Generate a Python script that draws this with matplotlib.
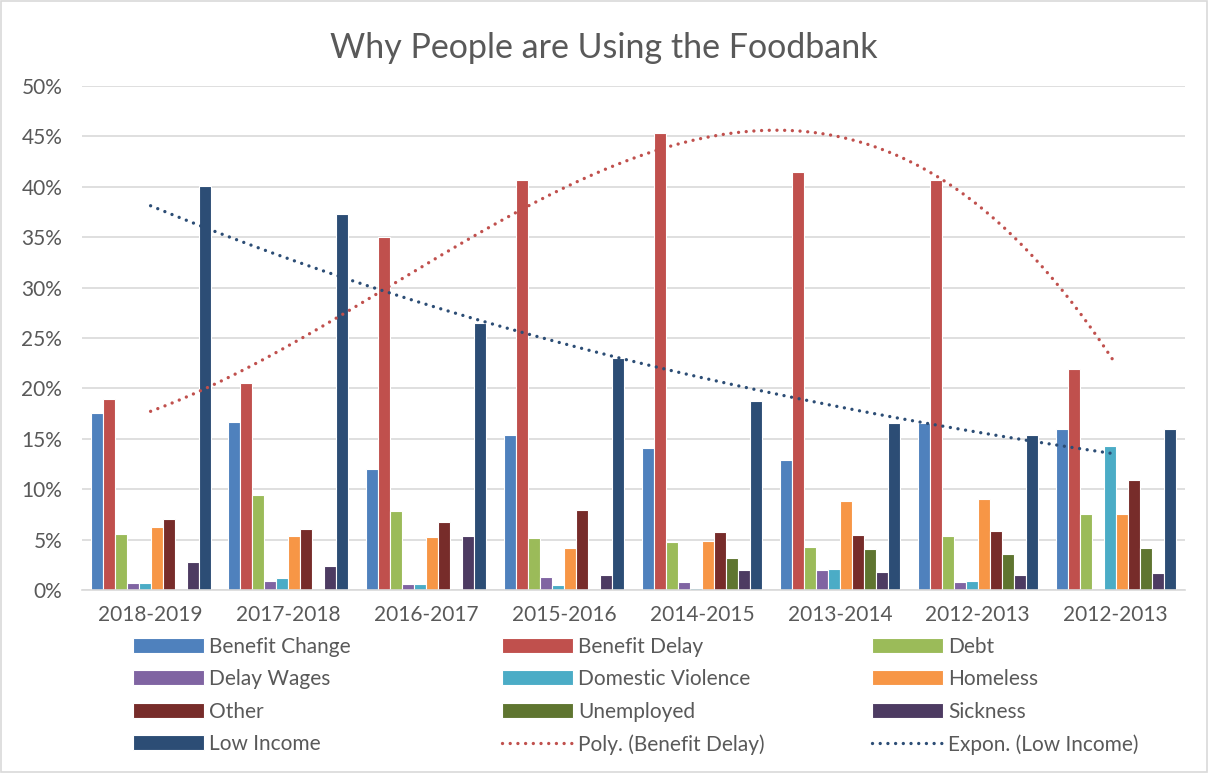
import matplotlib
matplotlib.use('Agg')
import matplotlib.pyplot as plt
import numpy as np
from matplotlib.lines import Line2D
from matplotlib.patches import Rectangle

plt.rcParams['font.family'] = ['Lato', 'DejaVu Sans']

# Data (percent)
years = ['2018-2019', '2017-2018', '2016-2017', '2015-2016',
         '2014-2015', '2013-2014', '2012-2013', '2012-2013']
benefit_change = [17.6, 16.7, 12.0, 15.4, 14.1, 12.9, 16.6, 16.0]
benefit_delay = [19.0, 20.5, 35.0, 40.7, 45.3, 41.5, 40.7, 21.9]
debt = [5.6, 9.4, 7.8, 5.2, 4.8, 4.3, 5.4, 7.5]
delay_wages = [0.7, 0.9, 0.6, 1.3, 0.8, 2.0, 0.8, 0.0]
domestic_violence = [0.7, 1.2, 0.6, 0.5, 0.2, 2.1, 0.9, 14.3]
homeless = [6.3, 5.4, 5.3, 4.2, 4.9, 8.8, 9.0, 7.5]
other = [7.0, 6.1, 6.7, 7.9, 5.8, 5.5, 5.9, 10.9]
unemployed = [0.0, 0.0, 0.0, 0.0, 3.2, 4.1, 3.6, 4.2]
sickness = [2.8, 2.4, 5.4, 1.5, 2.0, 1.8, 1.5, 1.7]
low_income = [40.1, 37.3, 26.5, 23.0, 18.8, 16.6, 15.4, 16.0]

series = [
    ('Benefit Change', benefit_change, '#4F81BD'),
    ('Benefit Delay', benefit_delay, '#C0504D'),
    ('Debt', debt, '#9BBB59'),
    ('Delay Wages', delay_wages, '#8064A2'),
    ('Domestic Violence', domestic_violence, '#4BACC6'),
    ('Homeless', homeless, '#F79646'),
    ('Other', other, '#772C2A'),
    ('Unemployed', unemployed, '#5F7530'),
    ('Sickness', sickness, '#4D3B62'),
    ('Low Income', low_income, '#2C4D75'),
]

txt = '#595959'
grid = '#D9D9D9'
dots = (0, (0.01, 2.3))

fig = plt.figure(figsize=(12.08, 7.73), dpi=100)
ax = fig.add_axes([0.0676, 0.2367, 0.9130, 0.6520])

x = np.arange(1, len(years) + 1)
slot = 0.087
handles = []
for k, (name, vals, col) in enumerate(series):
    b = ax.bar(x + (k - 4.5) * slot, np.array(vals) / 100, width=slot,
               color=col, edgecolor='white', linewidth=0.8, label=name, zorder=2)
    handles.append(b)

# trendlines fitted from the data, as Excel does
xs = np.linspace(1, 8, 200)
poly = np.polyfit(x, benefit_delay, 3)
ax.plot(xs, np.polyval(poly, xs) / 100, color='#C0504D', lw=2.4,
        linestyle=dots, dash_capstyle='round', zorder=3)
ex = np.polyfit(x, np.log(low_income), 1)
ax.plot(xs, np.exp(np.polyval(ex, xs)) / 100, color='#2C4D75', lw=2.4,
        linestyle=dots, dash_capstyle='round', zorder=3)

ax.set_xlim(0.5, 8.5)
ax.set_ylim(0, 0.5)
ax.set_yticks(np.arange(0, 0.51, 0.05))
ax.set_yticklabels(['{0}%'.format(int(round(v * 100))) for v in np.arange(0, 0.51, 0.05)])
ax.set_xticks(x)
ax.set_xticklabels(years)
ax.tick_params(axis='both', length=0, labelsize=15, colors=txt)
ax.tick_params(axis='x', pad=11)
ax.tick_params(axis='y', pad=14)
ax.set_axisbelow(True)
ax.grid(axis='y', color=grid, lw=1.2)
for s in ['top', 'right', 'left']:
    ax.spines[s].set_visible(False)
ax.spines['bottom'].set_color(grid)
ax.spines['bottom'].set_linewidth(1.2)

fig.text(0.5, 0.938, 'Why People are Using the Foodbank', ha='center', va='center',
         fontsize=24.5, color=txt)

# legend, three columns read row by row
tr_red = Line2D([], [], color='#C0504D', lw=2.4, linestyle=dots, dash_capstyle='round')
tr_blue = Line2D([], [], color='#2C4D75', lw=2.4, linestyle=dots, dash_capstyle='round')
all_h = handles + [tr_red, tr_blue]
all_l = [s[0] for s in series] + ['Poly. (Benefit Delay)', 'Expon. (Low Income)']
for c, xpos in enumerate([0.110, 0.4156, 0.722]):
    hh = all_h[c::3]
    ll = all_l[c::3]
    leg = fig.legend(hh, ll, loc='upper left', bbox_to_anchor=(xpos, 0.1765),
                     frameon=False, fontsize=15, handlelength=3.4, handleheight=0.7,
                     handletextpad=0.25, labelspacing=0.6, borderpad=0, borderaxespad=0)
    for t in leg.get_texts():
        t.set_color(txt)

fig.patches.append(Rectangle((0.001, 0.001), 0.998, 0.998, transform=fig.transFigure,
                             fill=False, edgecolor=grid, lw=1.2))

plt.savefig('out.png', dpi=100)
